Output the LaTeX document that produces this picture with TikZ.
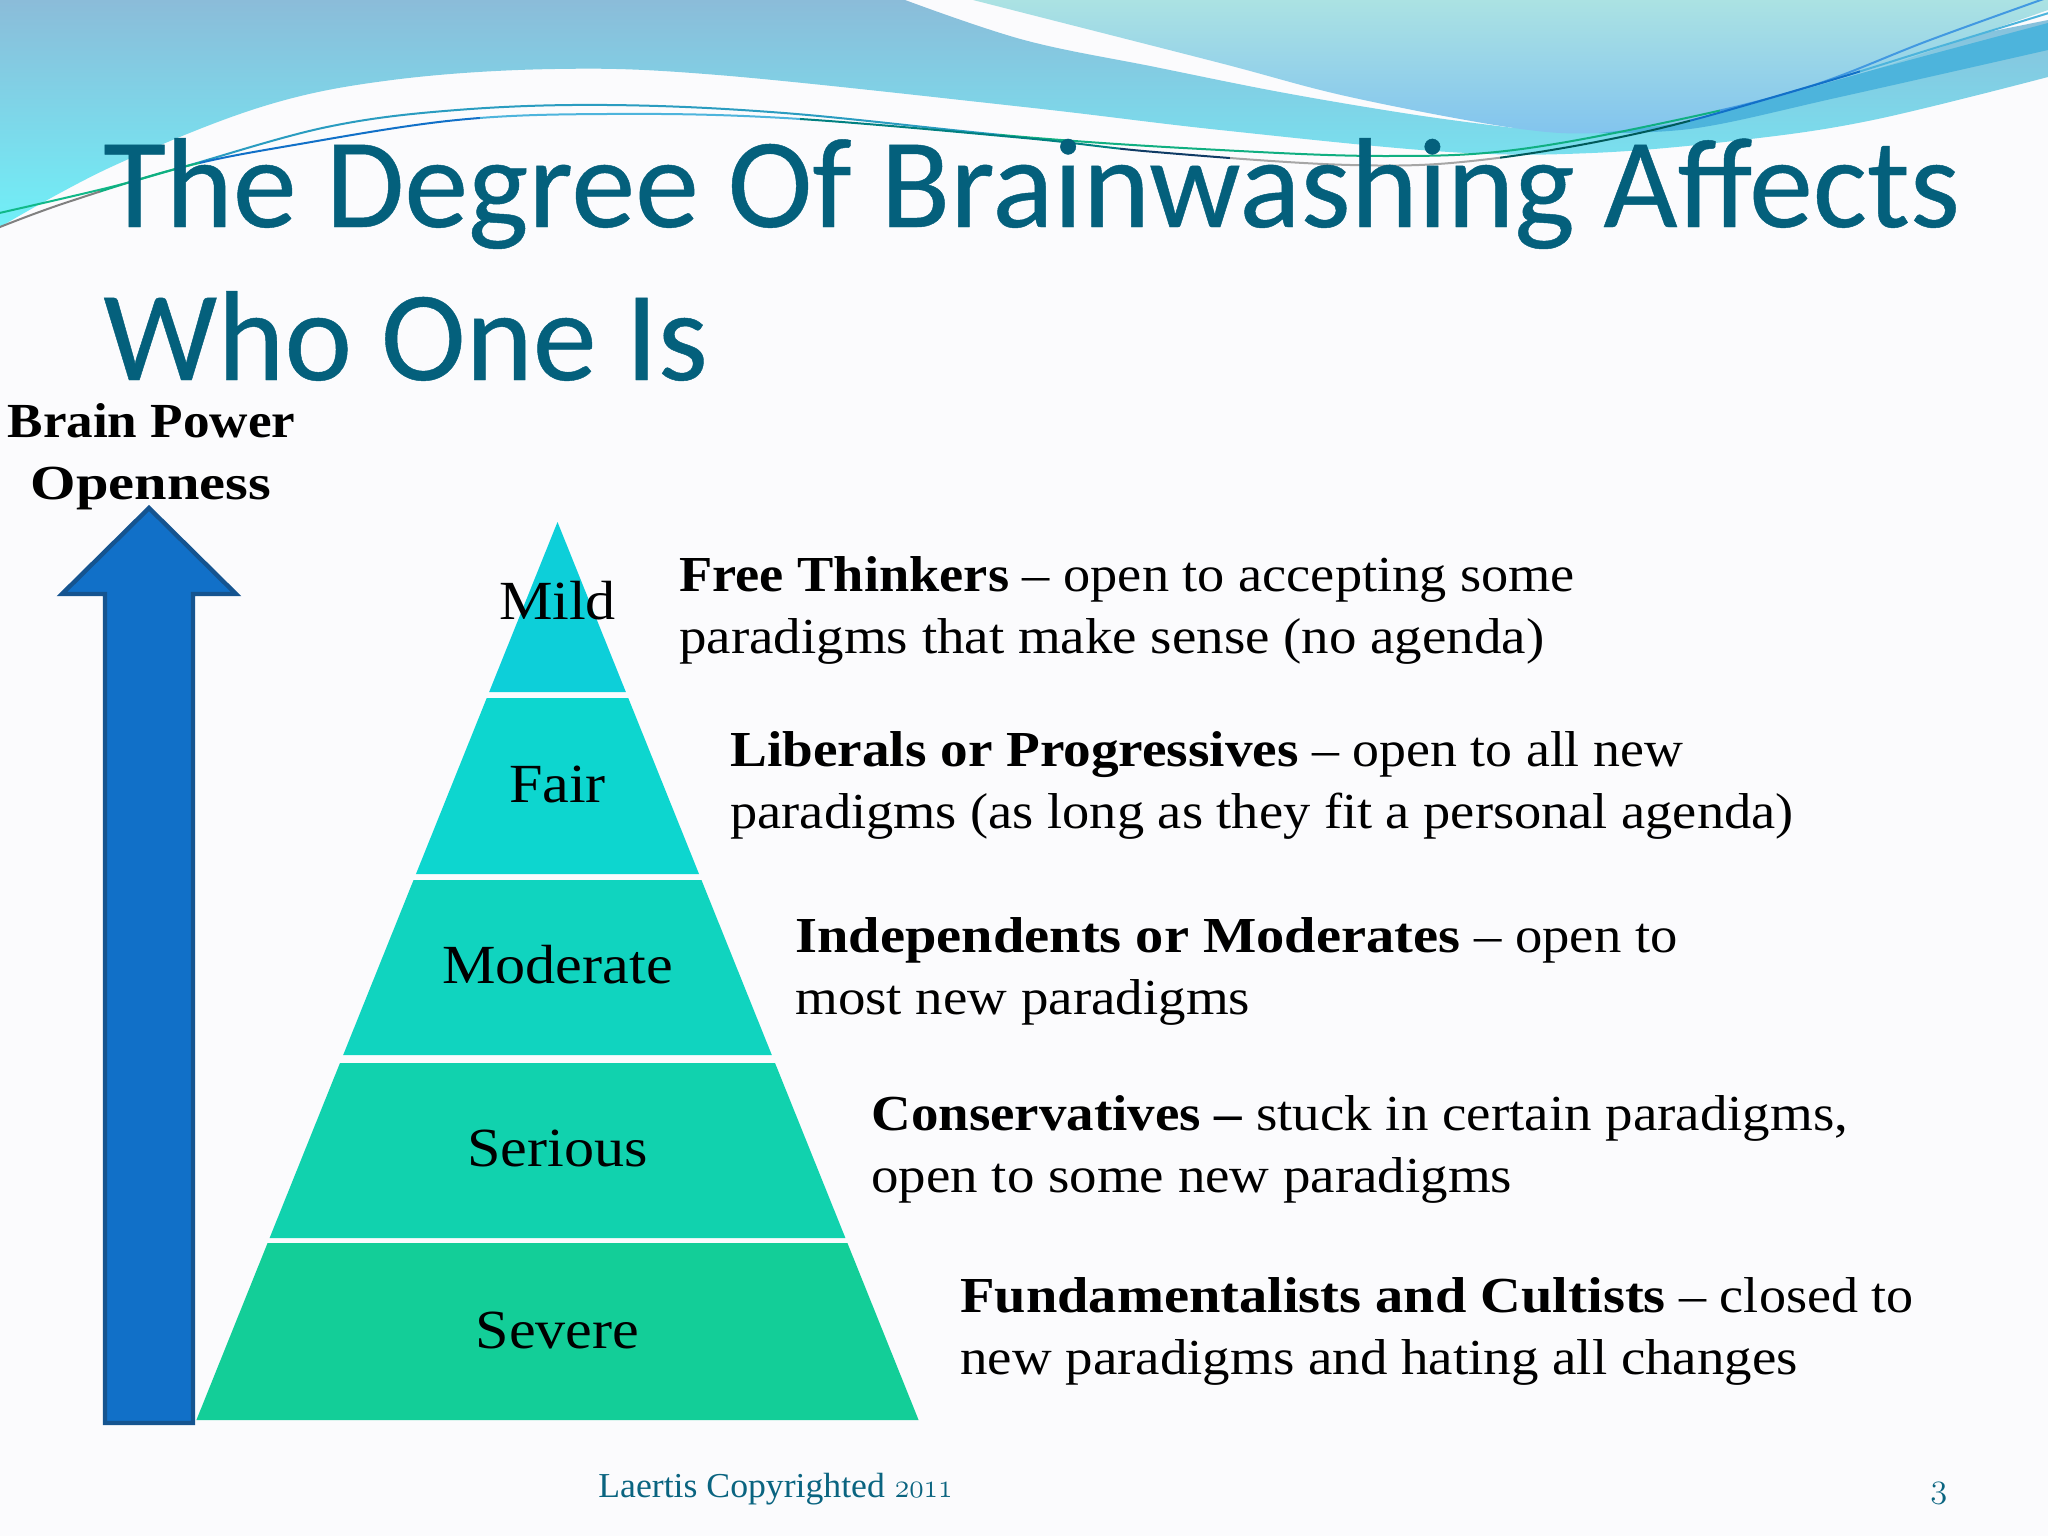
\documentclass[tikz,border=0pt]{standalone}
\usepackage{fontspec}
\usepackage{graphicx}
\setmainfont{Liberation Serif}
\newfontfamily\titlefont[FakeBold=0.35]{Carlito}
\newfontfamily\bodyfont[FakeStretch=1.09]{Liberation Serif}
\newfontfamily\footfont[FakeStretch=1.02]{Liberation Serif}
\definecolor{bgc}{HTML}{FBFBFD}
\definecolor{titlec}{HTML}{04607C}
\definecolor{footc}{HTML}{0A6480}
\definecolor{arrf}{HTML}{1170C8}
\definecolor{arrs}{HTML}{155490}
\definecolor{cA}{HTML}{0DCFD9}
\definecolor{cB}{HTML}{0DD6CF}
\definecolor{cC}{HTML}{10D4BF}
\definecolor{cD}{HTML}{11D2AE}
\definecolor{cE}{HTML}{13CE98}
\definecolor{wtop}{HTML}{8BBCD9}
\definecolor{wbot}{HTML}{70F0F8}
\definecolor{ptop}{HTML}{ABE2E3}
\definecolor{pbot}{HTML}{82C4EE}
\definecolor{dk}{HTML}{4DB4DC}
\definecolor{lineblue}{HTML}{2A9CC0}
\tikzset{
  x=0.5pt,y=-0.5pt,
  tier/.style={inner sep=0pt,text=black,font=\bodyfont\fontsize{27.6}{30}\selectfont},
  body/.style={inner sep=0pt,anchor=west,align=left,text=black,font=\bodyfont\fontsize{25.2}{31}\selectfont},
  ttl/.style={inner sep=0pt,anchor=base west,text=titlec,font=\titlefont\fontsize{64}{66}\selectfont},
  axislabel/.style={inner sep=0pt,anchor=base,text=black,font=\bodyfont\bfseries\fontsize{24.5}{26}\selectfont},
  foot/.style={inner sep=0pt,text=footc,anchor=base west,font=\footfont\fontsize{17.5}{20}\selectfont},
  thin wave/.style={line width=1pt,line cap=round}
}
\newcommand{\sx}[2]{\scalebox{#1}[1]{#2}}
\newcommand{\osf}[1]{{\usefont{OML}{cmm}{m}{it}#1}}
\newcommand{\curveA}{plot[smooth,tension=0.6] coordinates {(-5,214)(111,187)(183,167)(327,127)(457,110)(607,105)(784,113)(1024,137)(1220,150)(1383,156)(1514,150)(1677,120)(1808,87)(1930,40)(2052,-4)}}
\newcommand{\curveB}{plot[smooth,tension=0.6] coordinates {(-5,229)(65,203)(183,167)(294,145)(457,120)(607,114)(784,118)(1024,138)(1155,152)(1350,165)(1481,160)(1644,132)(1808,87)(1938,47)(2052,12)}}
\newcommand{\seg}[4]{\begin{scope}\clip (#1,-10) rectangle (#2,300);\draw[thin wave,#3] \csname curve#4\endcsname;\end{scope}}
\newcommand{\tierpath}[3]{\fill[#3] ({557.5-(#1-522)*0.4021},#1) -- ({557.5+(#1-522)*0.4021},#1) -- ({557.5+(#2-522)*0.4021},#2) -- ({557.5-(#2-522)*0.4021},#2) -- cycle;}
\begin{document}
\begin{tikzpicture}
\useasboundingbox (0,0) rectangle (2048,1536);
\fill[bgc] (0,0) rectangle (2048,1536);
% main wave
\begin{scope}
\clip (0,0) -- plot[smooth,tension=0.6] coordinates {(905,0)(1024,40)(1155,67)(1285,93)(1416,115)(1514,128)}
  -- (2048,20)
  -- plot[smooth,tension=0.6] coordinates {(2048,77)(1873,120)(1742,140)(1592,153)(1449,152)(1220,130)(1024,107)(718,75)(555,69)(392,80)(261,107)(111,167)(0,227)} -- cycle;
\shade[top color=wtop,bottom color=wbot] (-1,0) rectangle (2049,228);
\end{scope}
% pale wave
\begin{scope}
\clip plot[smooth,tension=0.6] coordinates {(973,0)(1024,13)(1220,63)(1350,97)(1514,128)(1599,133)(1677,123)(1742,107)(1873,70)(2048,10)} -- (2048,0) -- cycle;
\shade[top color=ptop,bottom color=pbot] (970,0) rectangle (2049,134);
\end{scope}
% darker band
\fill[dk] plot[smooth,tension=0.6] coordinates {(1599,133)(1677,123)(1742,107)(1873,70)(2048,23)}
  -- plot[smooth,tension=0.6] coordinates {(2048,50)(1840,97)(1697,128)(1599,133)} -- cycle;
% thin curves
\seg{-5}{190}{cE!90!black}{A}
\seg{190}{1000}{lineblue}{A}
\seg{1000}{1720}{cE!85!black}{A}
\seg{1720}{2052}{dk!85!blue}{A}
\seg{-5}{100}{gray}{B}
\seg{100}{200}{cE!85!black}{B}
\seg{200}{480}{arrf}{B}
\seg{480}{800}{dk}{B}
\seg{800}{1120}{teal}{B}
\seg{1120}{1230}{arrs!70!black}{B}
\seg{1230}{1500}{gray!70}{B}
\seg{1500}{1690}{teal!70!black}{B}
\seg{1690}{1860}{arrf}{B}
\seg{1860}{2052}{dk}{B}
% title
\node[ttl] (title1) at (103,227) {The Degree Of Brainwashing Affects};
\node[ttl] (title2) at (103,380) {Who One Is};
% arrow
\draw[fill=arrf,draw=arrs,line width=2.2pt,miter limit=3] (149,508) -- (236,594) -- (193,594) -- (193,1423) -- (105,1423) -- (105,594) -- (62,594) -- cycle;
\node[axislabel] (bp) at (151.5,437) {\sx{0.995}{Brain Power}};
\node[axislabel] (op) at (151,499) {\sx{1.095}{Openness}};
% pyramid
\tierpath{522}{692}{cA}
\tierpath{698}{874}{cB}
\tierpath{880}{1055}{cC}
\tierpath{1063}{1238}{cD}
\tierpath{1243}{1420}{cE}
\node[tier] (mild) at (557.5,601) {Mild};
\node[tier] (fair) at (557.5,784) {Fair};
\node[tier] (moderate) at (557.5,965) {Moderate};
\node[tier] (serious) at (557.5,1148) {Serious};
\node[tier] (severe) at (557.5,1330) {Severe};
% descriptions
\node[body] (t1) at (679,610) {\sx{0.99}{\textbf{Free Thinkers}}\sx{0.989}{ – open to accepting some}\\paradigms that make sense (no agenda)};
\node[body] (t2) at (730,785) {\sx{1.005}{\textbf{Liberals or Progressives}}\sx{0.98}{ – open to all new}\\\sx{0.99}{paradigms (as long as they fit a personal agenda)}};
\node[body] (t3) at (795,971) {\sx{1.028}{\textbf{Independents or Moderates}}\sx{0.995}{ – open to}\\most new paradigms};
\node[body] (t4) at (871,1149) {\textbf{Conservatives –} stuck in certain paradigms,\\open to some new paradigms};
\node[body] (t5) at (960,1331) {\sx{1.027}{\textbf{Fundamentalists and Cultists}}\sx{0.985}{ – closed to}\\new paradigms and hating all changes};
% footer
\node[foot] (cr) at (598,1497) {Laertis Copyrighted\hspace{5pt}\sx{0.85}{\osf{2011}}};
\node[foot] (pg) at (1930,1497) {\osf{3}};
\end{tikzpicture}
\end{document}
